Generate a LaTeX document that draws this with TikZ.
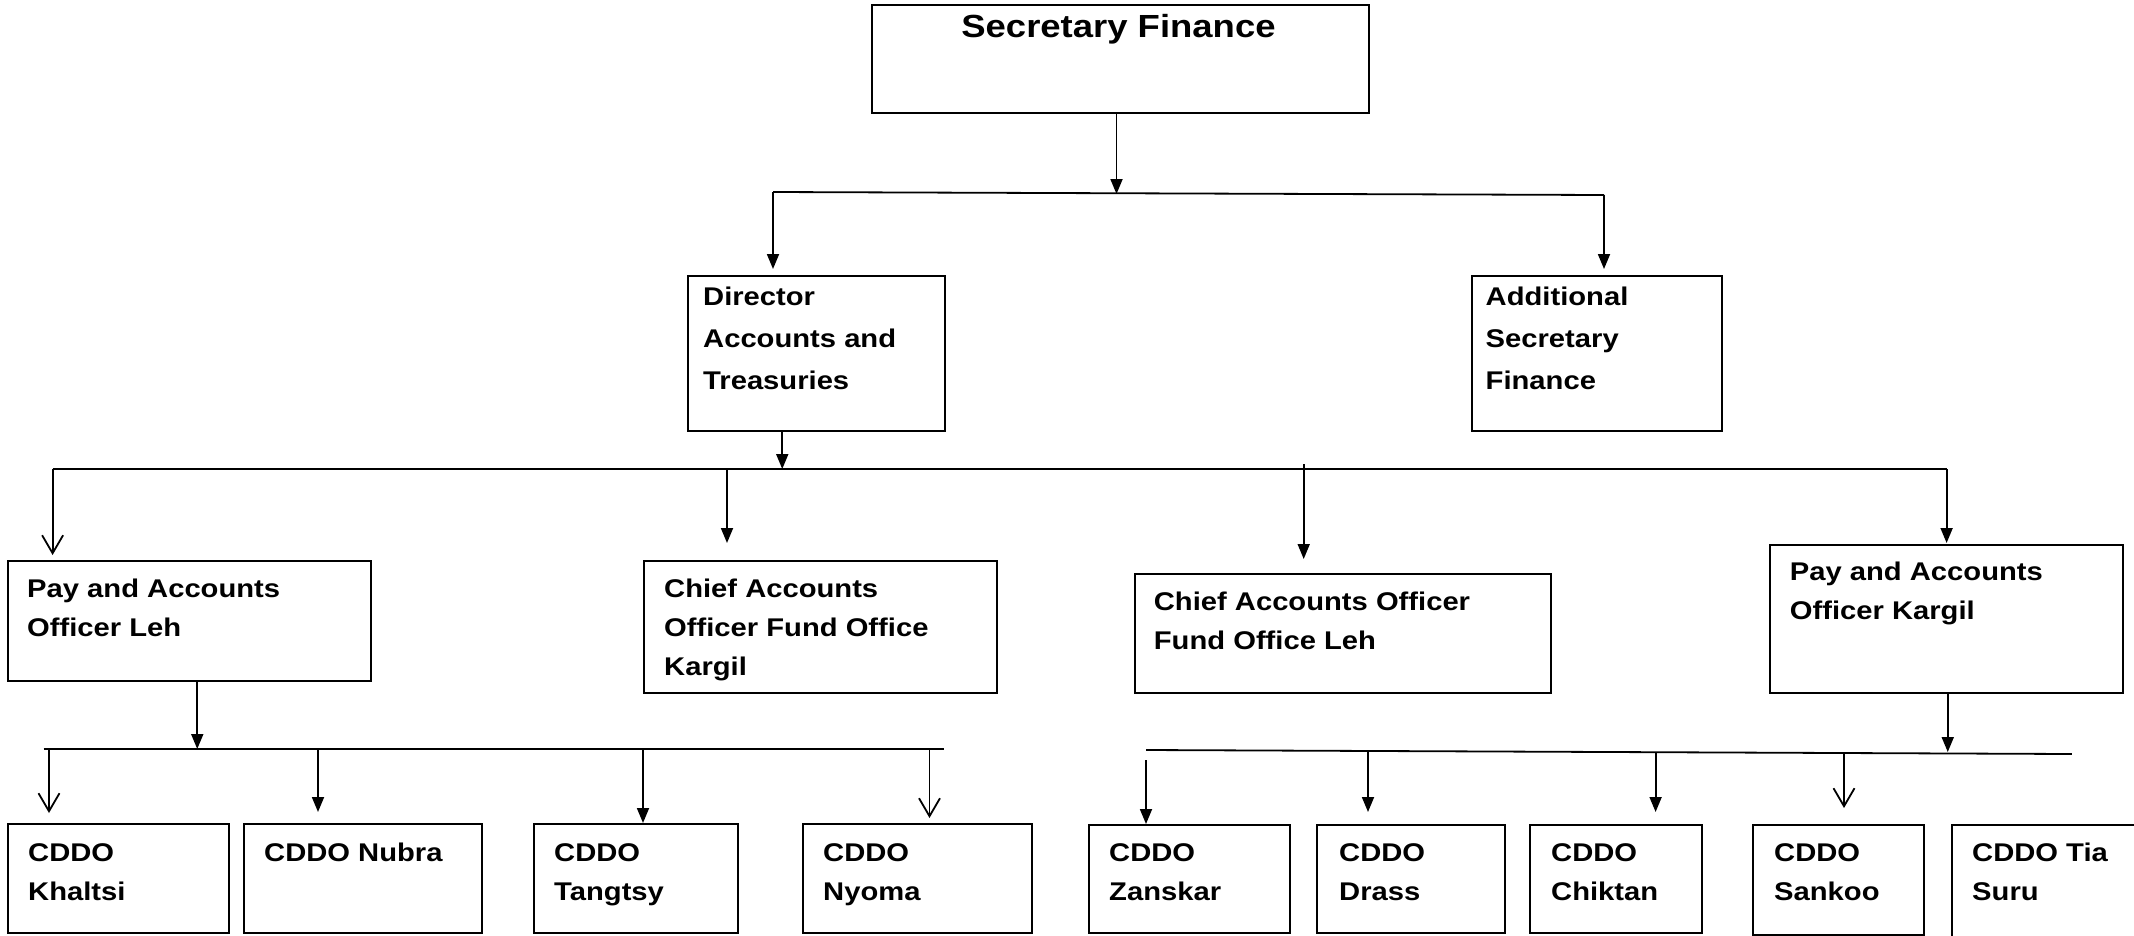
\documentclass[tikz,border=0pt]{standalone}
\usepackage{fontspec}
\setmainfont[FakeStretch=1.14]{Liberation Sans}
\usetikzlibrary{arrows.meta}
\newcommand{\boxlines}[1]{\begin{tabular}[t]{@{}l@{}}#1\end{tabular}}
\begin{document}
\begin{tikzpicture}[x=1pt,y=-1pt,
  box/.style={draw, line width=2pt, rectangle, inner sep=0pt, anchor=north west},
  txt/.style={inner sep=0pt, anchor=base west, font=\fontsize{25.6}{39}\selectfont\bfseries},
  titletxt/.style={inner sep=0pt, anchor=base, font=\fontsize{32}{38}\selectfont\bfseries},
  conn/.style={line width=1.8pt},
  arr/.style={conn, -{Triangle[length=15pt,width=12pt]}},
  oarr/.style={conn, -{Straight Barb[length=18pt,width=21pt]}}]
\useasboundingbox (0,0) rectangle (2134,935);
\clip (0,0) rectangle (2134,935);

% boxes
\node[box, minimum width=497pt, minimum height=108pt] (sec) at (871,4) {};
\node[box, minimum width=256.5pt, minimum height=155pt] (dir) at (687,275) {};
\node[box, minimum width=249.5pt, minimum height=155pt] (add) at (1471,275) {};
\node[box, minimum width=362.5pt, minimum height=120pt] (paoleh) at (7,560) {};
\node[box, minimum width=353pt, minimum height=132pt] (cakar) at (643,560) {};
\node[box, minimum width=416.2pt, minimum height=118.7pt] (caoleh) at (1133.6,573) {};
\node[box, minimum width=352.5pt, minimum height=147.7pt] (paokar) at (1769,544) {};
\node[box, minimum width=221pt, minimum height=109pt] (khaltsi) at (7,823) {};
\node[box, minimum width=237.5pt, minimum height=109pt] (nubra) at (243,823) {};
\node[box, minimum width=203.6pt, minimum height=109pt] (tangtsy) at (533,823) {};
\node[box, minimum width=229pt, minimum height=109pt] (nyoma) at (802,823) {};
\node[box, minimum width=200.5pt, minimum height=108pt] (zanskar) at (1088,824) {};
\node[box, minimum width=188pt, minimum height=108pt] (drass) at (1316,824) {};
\node[box, minimum width=172pt, minimum height=108pt] (chiktan) at (1529,824) {};
\node[box, minimum width=171pt, minimum height=110pt] (sankoo) at (1752,824) {};
\node[box, minimum width=200pt, minimum height=130pt] (tiasuru) at (1951,824) {};

% texts
\node[titletxt] (sect) at (1118.5,37) {Secretary Finance};
\node[txt] (dirt) at (703,305) {\boxlines{Director\\[3pt]Accounts and\\[3pt]Treasuries}};
\node[txt] (addt) at (1485.5,305) {\boxlines{Additional\\[3pt]Secretary\\[3pt]Finance}};
\node[txt] (paoleht) at (27,597) {\boxlines{Pay and Accounts\\Officer Leh}};
\node[txt] (cakart) at (664,597) {\boxlines{Chief Accounts\\Officer Fund Office\\Kargil}};
\node[txt] (caoleht) at (1153.7,610) {\boxlines{Chief Accounts Officer\\Fund Office Leh}};
\node[txt] (paokart) at (1789.7,580) {\boxlines{Pay and Accounts\\Officer Kargil}};
\node[txt] (khaltsit) at (28,861) {\boxlines{CDDO\\Khaltsi}};
\node[txt] (nubrat) at (264,861) {\boxlines{CDDO Nubra}};
\node[txt] (tangtsyt) at (554,861) {\boxlines{CDDO\\Tangtsy}};
\node[txt] (nyomat) at (823,861) {\boxlines{CDDO\\Nyoma}};
\node[txt] (zanskart) at (1109,861) {\boxlines{CDDO\\Zanskar}};
\node[txt] (drasst) at (1339,861) {\boxlines{CDDO\\Drass}};
\node[txt] (chiktant) at (1551,861) {\boxlines{CDDO\\Chiktan}};
\node[txt] (sankoot) at (1774,861) {\boxlines{CDDO\\Sankoo}};
\node[txt] (tiasurut) at (1972,861) {\boxlines{CDDO Tia\\Suru}};

% bus coordinates
\coordinate (b1l) at (773,192);
\coordinate (b1r) at (1604,195);
\coordinate (b2l) at (52.6,469);
\coordinate (b2a) at (727,469);
\coordinate (b2b) at (1303.7,464);
\coordinate (b2r) at (1946.6,469);
\coordinate (b3l) at (43.5,749);
\coordinate (b3r) at (943.5,749);
\coordinate (b4l) at (1146,750);
\coordinate (b4r) at (2071.8,754);
\coordinate (d3a) at (49,749);
\coordinate (d3b) at (318,749);
\coordinate (d3c) at (643,749);
\coordinate (d3d) at (929.5,749);
\coordinate (d4a) at (1146,760);
\coordinate (d4b) at (1368,751);
\coordinate (d4c) at (1655.6,752);
\coordinate (d4d) at (1844,753);

% level 1
\draw[arr] ([xshift=-4pt]sec.south) -- ([xshift=-4pt,yshift=-80pt]sec.south);
\draw[conn] (b1l) -- (b1r);
\draw[arr, shorten >=6pt] (b1l) -- (b1l |- dir.north);
\draw[arr, shorten >=6pt] (b1r) -- (b1r |- add.north);

% level 2
\draw[arr] ([xshift=-34pt]dir.south) -- ([xshift=-34pt]dir.south |- b2l);
\draw[conn] (b2l) -- (b2r);
\draw[oarr, shorten >=5pt] (b2l) -- (b2l |- paoleh.north);
\draw[arr, shorten >=17pt] (b2a) -- (b2a |- cakar.north);
\draw[arr, shorten >=14pt] (b2b) -- (b2b |- caoleh.north);
\draw[arr, shorten >=1pt] (b2r) -- (b2r |- paokar.north);

% level 3 left
\draw[arr] ([xshift=8pt]paoleh.south) -- ([xshift=8pt]paoleh.south |- b3l);
\draw[conn] (b3l) -- (b3r);
\draw[oarr, shorten >=10pt] (d3a) -- (d3a |- khaltsi.north);
\draw[arr, shorten >=11pt] (d3b) -- (d3b |- nubra.north);
\draw[arr] (d3c) -- (d3c |- tangtsy.north);
\draw[oarr, shorten >=5pt] (d3d) -- (d3d |- nyoma.north);

% level 3 right
\draw[arr] ([xshift=1.5pt]paokar.south) -- ([xshift=1.5pt]paokar.south |- d4c);
\draw[conn] (b4l) -- (b4r);
\draw[arr] (d4a) -- (d4a |- zanskar.north);
\draw[arr, shorten >=12pt] (d4b) -- (d4b |- drass.north);
\draw[arr, shorten >=12pt] (d4c) -- (d4c |- chiktan.north);
\draw[oarr, shorten >=16pt] (d4d) -- (d4d |- sankoo.north);
\end{tikzpicture}
\end{document}
